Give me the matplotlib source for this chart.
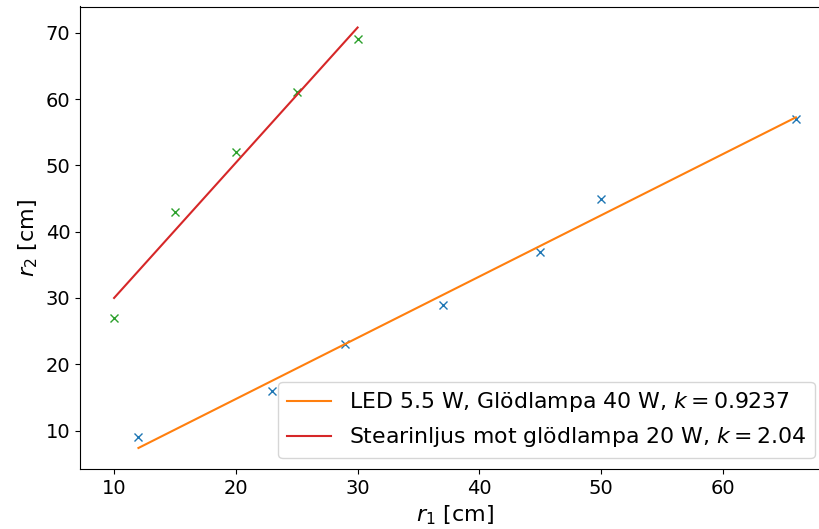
import numpy as np
import matplotlib.pyplot as plt

# LED 5.5 W vs glodlampa 40 W
r1_led = [12, 23, 29, 37, 45, 50, 66]
r2_led = [9, 16, 23, 29, 37, 45, 57]

# stearinljus vs glodlampa 20 W
r1_ljus = [10, 15, 20, 25, 30]
r2_ljus = [27, 43, 52, 61, 69]


def fitline(x, y):
    k, m = np.polyfit(x, y, 1)
    xs = np.array([min(x), max(x)])
    return xs, k * xs + m, k


plt.rcParams['font.size'] = 14

fig = plt.figure(figsize=(8.19, 5.29), dpi=100)
# axes runs a bit past the right edge, like the cropped original
ax = fig.add_axes([80 / 819, 60 / 529, 750 / 819, 462.5 / 529])

xs, ys, k1 = fitline(r1_led, r2_led)
ax.plot(r1_led, r2_led, 'x', color='C0')
ax.plot(xs, ys, color='C1', label='LED 5.5 W, Glödlampa 40 W, $k = %.4f$' % k1)

xs, ys, k2 = fitline(r1_ljus, r2_ljus)
ax.plot(r1_ljus, r2_ljus, 'x', color='C2')
ax.plot(xs, ys, color='C3', label='Stearinljus mot glödlampa 20 W, $k = %.2f$' % k2)

ax.set_xlabel('$r_1$ [cm]', fontsize=16)
ax.set_ylabel('$r_2$ [cm]', fontsize=16)
ax.set_xticks([10, 20, 30, 40, 50, 60])
ax.legend(loc='lower right', bbox_to_anchor=(0.994, 0.0), fontsize=15.8)

fig.savefig('out.png', dpi=100)
